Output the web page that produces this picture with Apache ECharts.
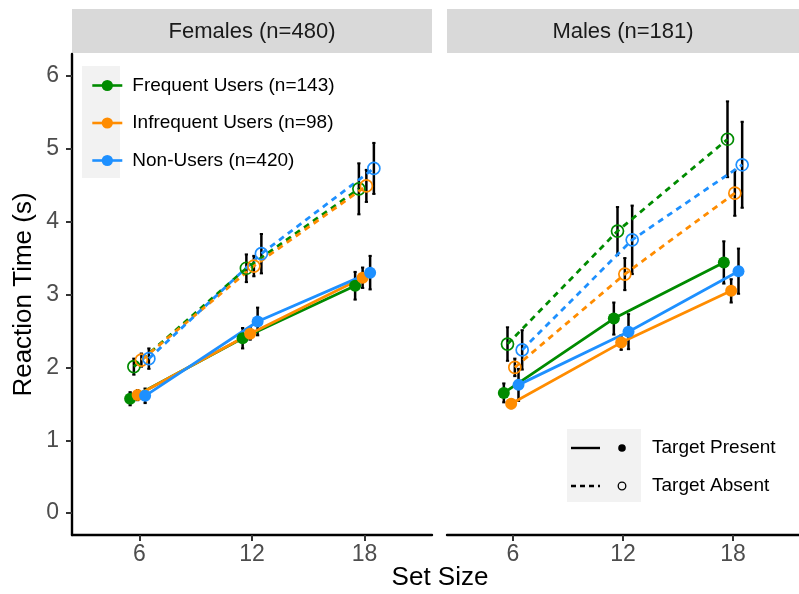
<!DOCTYPE html>
<html><head><meta charset="utf-8">
<script src="https://cdn.jsdelivr.net/npm/echarts@6/dist/echarts.min.js"></script>
<style>html,body{margin:0;padding:0;background:#fff}#c{width:799px;height:594px}</style>
</head><body><div id="c"></div>
<script>
// ---------- data ----------
const setSizes = [6, 12, 18];
const groups = ['Frequent Users (n=143)', 'Infrequent Users (n=98)', 'Non-Users (n=420)'];
const panels = ['Females (n=480)', 'Males (n=181)'];
const conditions = ['Target Present', 'Target Absent'];
const yTicks = [0, 1, 2, 3, 4, 5, 6];

// mean reaction time (s); rows: Frequent, Infrequent, Non-Users; columns: set size 6, 12, 18
const femalesPresent = [[1.57, 2.40, 3.12], [1.62, 2.46, 3.23], [1.61, 2.63, 3.30]];
const femalesAbsent  = [[2.01, 3.36, 4.45], [2.10, 3.39, 4.49], [2.12, 3.56, 4.73]];
const malesPresent   = [[1.65, 2.67, 3.44], [1.50, 2.34, 3.05], [1.76, 2.49, 3.32]];
const malesAbsent    = [[2.32, 3.87, 5.13], [2.00, 3.28, 4.39], [2.24, 3.75, 4.78]];

// error bar half-widths (s)
const femalesPresentErr = [[0.09, 0.14, 0.19], [0.07, 0.08, 0.14], [0.10, 0.19, 0.23]];
const femalesAbsentErr  = [[0.11, 0.19, 0.35], [0.09, 0.14, 0.22], [0.14, 0.27, 0.35]];
const malesPresentErr   = [[0.13, 0.22, 0.29], [0.06, 0.10, 0.16], [0.22, 0.24, 0.31]];
const malesAbsentErr    = [[0.23, 0.33, 0.52], [0.12, 0.22, 0.31], [0.27, 0.47, 0.59]];

// ---------- styling ----------
const colors = ['#008B00', '#FF8C00', '#1E90FF'];
const FONT = 'Liberation Sans, Arial, Helvetica, sans-serif';
const dodge = [-0.5, -0.3, -0.1, 0.1, 0.3, 0.5]; // index = group*2 + condition

const panelData = [
  [femalesPresent, femalesAbsent, femalesPresentErr, femalesAbsentErr],
  [malesPresent, malesAbsent, malesPresentErr, malesAbsentErr]
];

const series = [];
panelData.forEach((pd, p) => {
  const errRows = [];
  for (let g = 0; g < groups.length; g++) {
    for (let c = 0; c < 2; c++) {
      const means = pd[c][g];
      const errs = pd[2 + c][g];
      const off = dodge[g * 2 + c];
      setSizes.forEach((s, i) => {
        errRows.push([s + off, means[i] - errs[i], means[i] + errs[i]]);
      });
    }
  }
  series.push({
    type: 'custom',
    name: 'errorbars-' + p,
    xAxisIndex: p, yAxisIndex: p,
    z: 1,
    silent: true,
    encode: { x: 0, y: [1, 2] },
    data: errRows,
    renderItem: function (params, api) {
      const x = api.value(0), lo = api.value(1), hi = api.value(2);
      const a = api.coord([x, lo]), b = api.coord([x, hi]);
      const cap = 1.6;
      const st = { stroke: '#000', lineWidth: 2.5 };
      return {
        type: 'group',
        children: [
          { type: 'line', shape: { x1: a[0], y1: a[1], x2: b[0], y2: b[1] }, style: st },
          { type: 'line', shape: { x1: a[0] - cap, y1: a[1], x2: a[0] + cap, y2: a[1] }, style: { stroke: '#000', lineWidth: 2 } },
          { type: 'line', shape: { x1: b[0] - cap, y1: b[1], x2: b[0] + cap, y2: b[1] }, style: { stroke: '#000', lineWidth: 2 } }
        ]
      };
    }
  });
  for (let g = 0; g < groups.length; g++) {
    for (let c = 0; c < 2; c++) {
      const means = pd[c][g];
      const off = dodge[g * 2 + c];
      series.push({
        type: 'line',
        name: groups[g],
        xAxisIndex: p, yAxisIndex: p,
        z: c === 0 ? 3 : 2,
        data: setSizes.map((s, i) => [s + off, means[i]]),
        symbol: 'circle',
        symbolSize: 12,
        showSymbol: true,
        lineStyle: { color: colors[g], width: 2.8, type: c === 0 ? 'solid' : [6, 5] },
        itemStyle: c === 0
          ? { color: colors[g], borderWidth: 0 }
          : { color: 'rgba(255,255,255,0)', borderColor: colors[g], borderWidth: 1.7 },
        emphasis: { disabled: true }
      });
    }
  }
});

const chart = echarts.init(document.getElementById('c'), null, { renderer: 'canvas' });

const xAxisBase = (gi) => ({
  type: 'value', gridIndex: gi, min: 2.4, max: 21.6,
  axisLine: { show: true, onZero: false, lineStyle: { color: '#000', width: 2.4 } },
  axisTick: { show: true, customValues: setSizes, length: 6, lineStyle: { color: '#333', width: 2 } },
  axisLabel: { customValues: setSizes, margin: 8, fontSize: 23, color: '#4d4d4d', fontFamily: FONT },
  splitLine: { show: false }
});

chart.setOption({
  animation: false,
  backgroundColor: '#fff',
  textStyle: { fontFamily: FONT },
  grid: [
    { left: 72, top: 54, width: 360, height: 481 },
    { left: 447, top: 54, width: 360, height: 481 }
  ],
  xAxis: [xAxisBase(0), xAxisBase(1)],
  yAxis: [
    {
      type: 'value', gridIndex: 0, min: -0.3, max: 6.3,
      name: 'Reaction Time (s)', nameLocation: 'middle', nameGap: 35,
      nameTextStyle: { fontSize: 26, color: '#000', fontFamily: FONT },
      axisLine: { show: true, onZero: false, lineStyle: { color: '#000', width: 2.4 } },
      axisTick: { show: true, customValues: yTicks, length: 6, lineStyle: { color: '#333', width: 2 } },
      axisLabel: { customValues: yTicks, margin: 13, fontSize: 23, color: '#4d4d4d', fontFamily: FONT },
      splitLine: { show: false }
    },
    {
      type: 'value', gridIndex: 1, min: -0.3, max: 6.3,
      axisLine: { show: false }, axisTick: { show: false }, axisLabel: { show: false },
      splitLine: { show: false }
    }
  ],
  legend: {
    data: groups,
    orient: 'vertical',
    left: 86, top: 71,
    itemWidth: 30, itemHeight: 14, itemGap: 18.5,
    selectedMode: false,
    lineStyle: { width: 2.6 },
    textStyle: { fontSize: 19, color: '#000', fontFamily: FONT, lineHeight: 14, padding: [0, 0, 0, 5] }
  },
  graphic: [
    { type: 'rect', z: 0, shape: { x: 72, y: 9, width: 360, height: 44 }, style: { fill: '#d9d9d9' } },
    { type: 'rect', z: 0, shape: { x: 447, y: 9, width: 360, height: 44 }, style: { fill: '#d9d9d9' } },
    { type: 'text', z: 1, x: 252, y: 32, style: { text: panels[0], fontSize: 22, fill: '#1a1a1a', align: 'center', verticalAlign: 'middle', fontFamily: FONT } },
    { type: 'text', z: 1, x: 623, y: 32, style: { text: panels[1], fontSize: 22, fill: '#1a1a1a', align: 'center', verticalAlign: 'middle', fontFamily: FONT } },
    { type: 'rect', z: 0, shape: { x: 82, y: 66, width: 38, height: 112 }, style: { fill: '#f2f2f2' } },
    { type: 'text', z: 1, x: 440, y: 578, style: { text: 'Set Size', fontSize: 26, fill: '#000', align: 'center', verticalAlign: 'middle', fontFamily: FONT } },
    // shape / linetype legend
    { type: 'rect', z: 0, shape: { x: 567, y: 429, width: 74, height: 73 }, style: { fill: '#f2f2f2' } },
    { type: 'line', z: 1, shape: { x1: 571, y1: 448, x2: 600, y2: 448 }, style: { stroke: '#000', lineWidth: 2.4 } },
    { type: 'circle', z: 1, shape: { cx: 622, cy: 448, r: 3.8 }, style: { fill: '#000' } },
    { type: 'text', z: 1, x: 652, y: 448, style: { text: conditions[0], fontSize: 19, fill: '#000', align: 'left', verticalAlign: 'middle', fontFamily: FONT } },
    { type: 'line', z: 1, shape: { x1: 571, y1: 486, x2: 600, y2: 486 }, style: { stroke: '#000', lineWidth: 2.4, lineDash: [5, 4] } },
    { type: 'circle', z: 1, shape: { cx: 622, cy: 486, r: 3.8 }, style: { fill: 'none', stroke: '#000', lineWidth: 1.3 } },
    { type: 'text', z: 1, x: 652, y: 486, style: { text: conditions[1], fontSize: 19, fill: '#000', align: 'left', verticalAlign: 'middle', fontFamily: FONT } }
  ],
  series: series
});
</script>
</body></html>
